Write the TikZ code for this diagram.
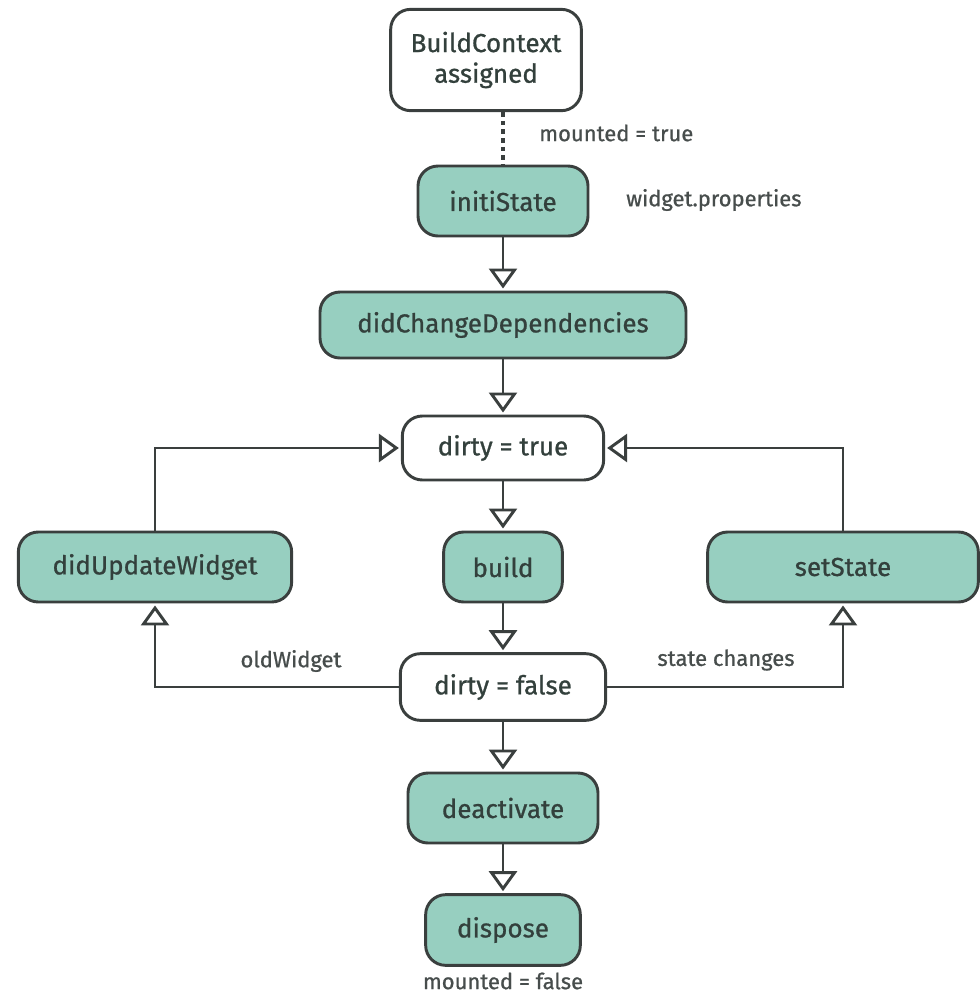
\documentclass[tikz,border=0pt]{standalone}
\usepackage{fontspec}
\setmainfont{Fira Sans}
\newfontfamily\plexish{Fira Sans}[FakeBold=0.9]
\usetikzlibrary{arrows.meta}
\definecolor{stepfill}{HTML}{97CFC0}
\definecolor{edge}{HTML}{3A3F3E}
\definecolor{ink}{HTML}{33403C}
\definecolor{note}{HTML}{474D4C}
\begin{document}
\begin{tikzpicture}[x=0.75pt,y=-0.75pt,
  box/.style={draw=edge, line width=2.2pt, rounded corners=15pt, fill=white,
    font=\plexish\fontsize{19.5}{23}\selectfont, text=ink, align=center, inner sep=0pt},
  stepbox/.style={box, fill=stepfill},
  flow/.style={draw=edge, line width=2.2pt, shorten >=1.5pt,
    -{Triangle[length=15pt, width=21pt, fill=white, line width=2.2pt]}},
  notetext/.style={font=\plexish\fontsize{16.5}{19}\selectfont, text=note, inner sep=0pt}]
\useasboundingbox (0,0) rectangle (979,993);

% lifecycle steps
\node[box, minimum width=143pt, minimum height=76pt] (ctx) at (486,60) {BuildContext\\assigned};
\node[stepbox, minimum width=127.5pt, minimum height=52.5pt] (init) at (503,201) {initiState};
\node[stepbox, minimum width=274.5pt, minimum height=49.5pt] (deps) at (503,325) {didChangeDependencies};
\node[box, minimum width=151pt, minimum height=48pt] (dtrue) at (503,448) {dirty = true};
\node[stepbox, minimum width=205pt, minimum height=52.5pt] (upd) at (155,567) {didUpdateWidget};
\node[stepbox, minimum width=89pt, minimum height=52.5pt] (build) at (503,567) {build};
\node[stepbox, minimum width=203pt, minimum height=52.5pt] (set) at (843,567) {setState};
\node[box, minimum width=154pt, minimum height=50pt] (dfalse) at (503,687) {dirty = false};
\node[stepbox, minimum width=142.5pt, minimum height=52.5pt] (deact) at (503,808) {deactivate};
\node[stepbox, minimum width=116pt, minimum height=53pt] (disp) at (503,930) {dispose};

% annotations
\node[notetext, anchor=west] (mtrue) at (539,133) {mounted = true};
\node[notetext, anchor=west] (props) at (626,200) {widget.properties};
\node[notetext] (oldw) at (291,661) {oldWidget};
\node[notetext] (sch) at (726,660) {state changes};
\node[notetext] (mfalse) at (503,981) {mounted = false};

% connectors
\draw[draw=edge, line width=2.6pt, dash pattern=on 3.5pt off 3pt] (ctx.south -| init.north) -- (init.north);
\draw[flow] (init) -- (deps);
\draw[flow] (deps) -- (dtrue);
\draw[flow] (dtrue) -- (build);
\draw[flow] (build) -- (dfalse);
\draw[flow] (dfalse) -- (deact);
\draw[flow] (deact) -- (disp);
\draw[flow] (upd.north) |- (dtrue.west);
\draw[flow] (set.north) |- (dtrue.east);
\draw[flow] (dfalse.west) -| (upd.south);
\draw[flow] (dfalse.east) -| (set.south);
\end{tikzpicture}
\end{document}
